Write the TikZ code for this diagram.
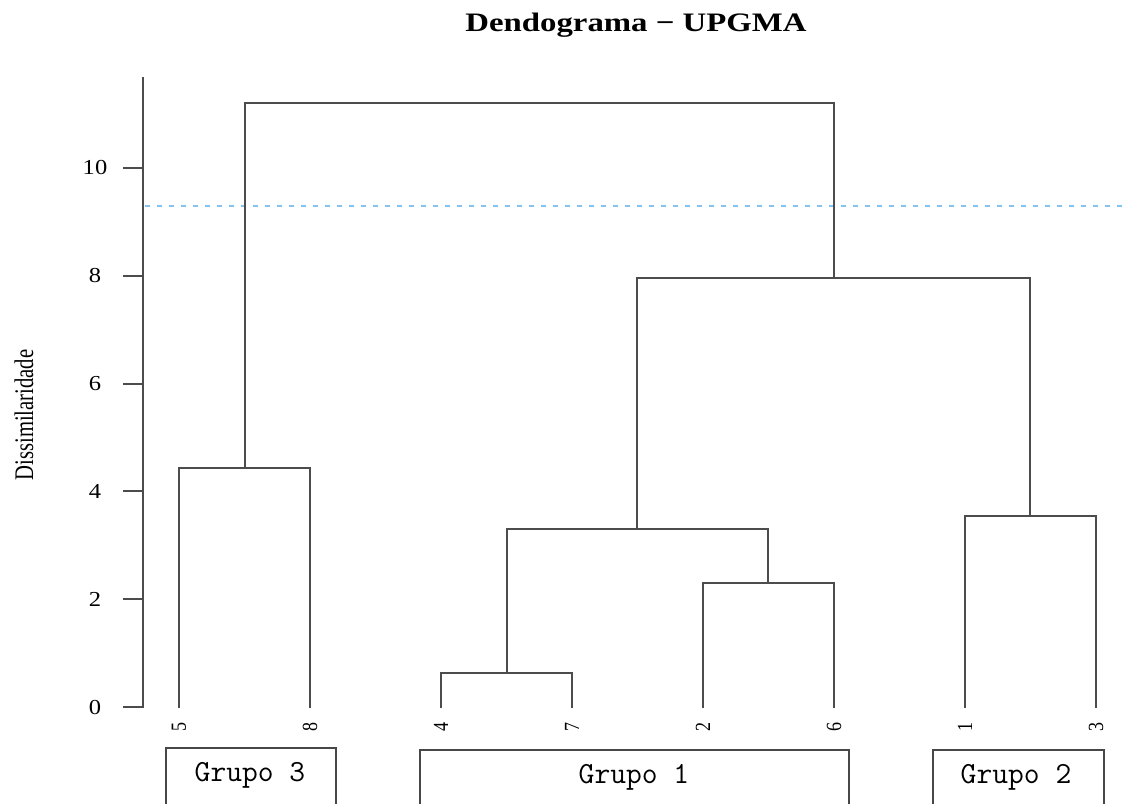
\documentclass[tikz,border=0pt]{standalone}
\usepackage{fontspec}
\setmainfont{Liberation Serif}
\definecolor{cutblue}{RGB}{130,195,240}
\tikzset{
  dline/.style={draw=black!70, line width=1.4pt, line cap=rect},
  cutline/.style={draw=cutblue, line width=1.3pt, dash pattern=on 4pt off 5pt},
  grpbox/.style={draw=black!72, line width=1.3pt},
  grptext/.style={font=\ttfamily\fontsize{23}{25}\selectfont, inner sep=0pt},
  ticklab/.style={font=\fontsize{16}{18}\selectfont, inner sep=0pt},
  leaflab/.style={font=\fontsize{13.5}{15}\selectfont, rotate=90, inner sep=0pt},
}
\begin{document}
\begin{tikzpicture}[x=0.75pt, y=-0.75pt]
\useasboundingbox (0,0) rectangle (1126,803);
\clip (0,0) rectangle (1126,803);
% title
\node (title) at (636,25) {\scalebox{1.23}[1]{\fontsize{20}{24}\selectfont\bfseries Dendograma − UPGMA}};
% y label
\node[rotate=90] (ylab) at (24,415) {\scalebox{1}[1.3]{\fontsize{15.5}{18}\selectfont Dissimilaridade}};
% axis
\coordinate (atop) at (143,78);
\coordinate (abot) at (143,707);
\draw[dline] (atop) -- (abot);
\foreach \v/\yy in {0/707,2/599,4/491,6/384,8/276,10/168}{
  \coordinate (t\v) at (143,\yy);
  \coordinate (tl\v) at (124,\yy);
  \draw[dline] (t\v) -- (tl\v);
  \node[ticklab] (tn\v) at (95,\yy) {\scalebox{1.15}[1]{\v}};
}
% cut line
\coordinate (c1) at (145,206);
\coordinate (c2) at (1126,206);
\draw[cutline] (c1) -- (c2);
% leaves
\foreach \n/\xx in {5/179,8/310,4/441,7/572,2/703,6/834,1/965,3/1096}{
  \coordinate (L\n) at (\xx,707);
  \node[leaflab] (ln\n) at (\xx,727) {\scalebox{1}[1.2]{\n}};
}
% merges
\coordinate (m58) at (245,468);
\coordinate (m47) at (507,673);
\coordinate (m26) at (768,583);
\coordinate (mg1) at (637,529);
\coordinate (m13) at (1030,516);
\coordinate (mg12) at (834,278);
\coordinate (mtop) at (540,103);
\draw[dline] (L5) |- (m58) -| (L8);
\draw[dline] (L4) |- (m47) -| (L7);
\draw[dline] (L2) |- (m26) -| (L6);
\draw[dline] (m47) |- (mg1) -| (m26);
\draw[dline] (L1) |- (m13) -| (L3);
\draw[dline] (mg1) |- (mg12) -| (m13);
\draw[dline] (m58) |- (mtop) -| (mg12);
% group boxes
\coordinate (b3a) at (166,830); \coordinate (b3b) at (336,748);
\coordinate (b1a) at (420,830); \coordinate (b1b) at (849,750);
\coordinate (b2a) at (933,830); \coordinate (b2b) at (1104,750);
\draw[grpbox] (b3a) rectangle (b3b);
\draw[grpbox] (b1a) rectangle (b1b);
\draw[grpbox] (b2a) rectangle (b2b);
\node[grptext] (g3) at (250,775) {Grupo 3};
\node[grptext] (g1) at (634,777) {Grupo 1};
\node[grptext] (g2) at (1016,777) {Grupo 2};
\end{tikzpicture}
\end{document}
